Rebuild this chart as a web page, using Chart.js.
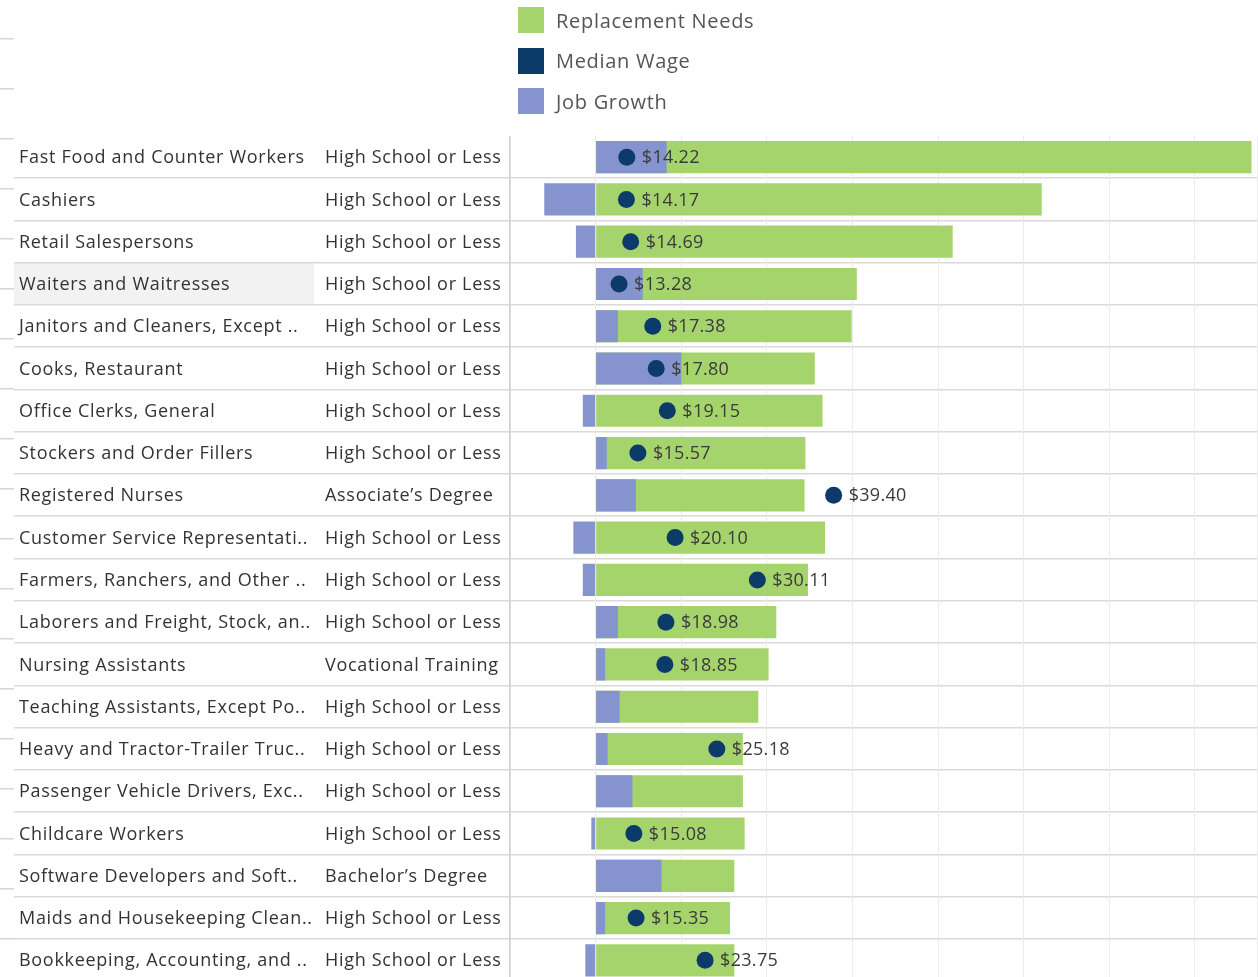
<!DOCTYPE html>
<html>
<head>
<meta charset="utf-8">
<script src="https://cdn.jsdelivr.net/npm/chart.js@4"></script>
<style>
  html, body { margin: 0; padding: 0; background: #fff; overflow: hidden; }
  body { width: 1258px; height: 977px; position: relative; font-family: 'Open Sans', sans-serif; }
  #chart { position: absolute; left: 0; top: 0; }
  .legend { position: absolute; left: 518px; top: 7px; }
  .legend-item { display: flex; align-items: center; height: 26px; margin-bottom: 14.5px; }
  .swatch { width: 26px; height: 26px; margin-right: 12px; }
  .legend-item span { font-size: 20px; color: #555; letter-spacing: 0.7px; }
</style>
</head>
<body>
<canvas id="chart" width="1266" height="990"></canvas>
<div class="legend">
  <div class="legend-item"><div class="swatch" style="background:#a6d46c"></div><span>Replacement Needs</span></div>
  <div class="legend-item"><div class="swatch" style="background:#0c3a69"></div><span>Median Wage</span></div>
  <div class="legend-item"><div class="swatch" style="background:#8593cf"></div><span>Job Growth</span></div>
</div>
<script>
const occupations = [
  'Fast Food and Counter Workers', 'Cashiers', 'Retail Salespersons', 'Waiters and Waitresses',
  'Janitors and Cleaners, Except ..', 'Cooks, Restaurant', 'Office Clerks, General',
  'Stockers and Order Fillers', 'Registered Nurses', 'Customer Service Representati..',
  'Farmers, Ranchers, and Other ..', 'Laborers and Freight, Stock, an..', 'Nursing Assistants',
  'Teaching Assistants, Except Po..', 'Heavy and Tractor-Trailer Truc..', 'Passenger Vehicle Drivers, Exc..',
  'Childcare Workers', 'Software Developers and Soft..', 'Maids and Housekeeping Clean..',
  'Bookkeeping, Accounting, and ..'
];
const education = [
  'High School or Less', 'High School or Less', 'High School or Less', 'High School or Less',
  'High School or Less', 'High School or Less', 'High School or Less', 'High School or Less',
  'Associate\u2019s Degree', 'High School or Less', 'High School or Less', 'High School or Less',
  'Vocational Training', 'High School or Less', 'High School or Less', 'High School or Less',
  'High School or Less', 'Bachelor\u2019s Degree', 'High School or Less', 'High School or Less'
];
// openings, in thousands
const replacementNeeds = [76.6, 52.1, 41.7, 30.5, 29.9, 25.6, 26.5, 24.5, 24.4, 26.8,
                          24.8, 21.1, 20.2, 19.0, 17.2, 17.2, 17.4, 16.2, 15.7, 16.2];
const jobGrowth = [8.3, -6.0, -2.3, 5.5, 2.6, 10.0, -1.5, 1.3, 4.7, -2.6,
                   -1.5, 2.6, 1.1, 2.8, 1.4, 4.3, -0.5, 7.7, 1.1, -1.2];
const medianWage = [14.22, 14.17, 14.69, 13.28, 17.38, 17.80, 19.15, 15.57, 39.40, 20.10,
                    30.11, 18.98, 18.85, null, 25.18, null, 15.08, null, 15.35, 23.75];

const GREEN = '#a6d46c';
const NAVY = '#0c3a69';
const BLUE = '#8593cf';
const FONT = "'Open Sans', sans-serif";
const highlightRow = 3;

const tablePlugin = {
  id: 'table',
  beforeDraw(chart) {
    const { ctx, chartArea, scales: { y } } = chart;
    const half = (y.getPixelForValue(1) - y.getPixelForValue(0)) / 2;
    ctx.save();
    // hovered-row shading behind the name cell
    const yc = y.getPixelForValue(highlightRow);
    ctx.fillStyle = '#f2f2f2';
    ctx.fillRect(14, yc - half, 300, half * 2);
    // stubs from a neighbouring panel at the far left
    ctx.fillStyle = '#d6d6d6';
    for (let sy = 38; sy < 977; sy += 50) ctx.fillRect(0, sy, 14, 1.5);
    // row separators
    ctx.fillStyle = '#d9d9d9';
    for (let i = 0; i < occupations.length - 1; i++) {
      const sy = Math.round(y.getPixelForValue(i) + half);
      ctx.fillRect(14, sy - 1, chartArea.right - 14, 1.5);
    }
    ctx.restore();
  },
  afterDraw(chart) {
    const { ctx, chartArea, scales: { y } } = chart;
    ctx.save();
    ctx.fillStyle = '#cfcfcf';
    ctx.fillRect(chartArea.left - 1, chartArea.top, 1.5, chartArea.bottom - chartArea.top);
    ctx.font = `18px ${FONT}`;
    ctx.letterSpacing = '0.7px';
    ctx.fillStyle = '#333';
    ctx.textBaseline = 'middle';
    occupations.forEach((name, i) => {
      const yc = y.getPixelForValue(i) + 1;
      ctx.fillText(name, 19, yc);
      ctx.fillText(education[i], 325, yc);
    });
    // wage labels beside the dots
    const meta = chart.getDatasetMeta(0);
    ctx.fillStyle = '#3a3a3a';
    ctx.letterSpacing = '0.3px';
    meta.data.forEach((pt, i) => {
      if (medianWage[i] == null) return;
      ctx.fillText('$' + medianWage[i].toFixed(2), pt.x + 15, pt.y + 1);
    });
    ctx.restore();
  }
};

new Chart(document.getElementById('chart'), {
  data: {
    labels: occupations,
    datasets: [
      {
        type: 'line',
        label: 'Median Wage',
        data: medianWage,
        xAxisID: 'x2',
        showLine: false,
        pointRadius: 8.5,
        pointBackgroundColor: NAVY,
        pointBorderWidth: 0,
        order: 0
      },
      {
        type: 'bar',
        label: 'Job Growth',
        data: jobGrowth,
        backgroundColor: BLUE,
        grouped: false,
        categoryPercentage: 0.76,
        barPercentage: 1,
        order: 1
      },
      {
        type: 'bar',
        label: 'Replacement Needs',
        data: replacementNeeds,
        backgroundColor: GREEN,
        grouped: false,
        categoryPercentage: 0.76,
        barPercentage: 1,
        order: 2
      }
    ]
  },
  options: {
    indexAxis: 'y',
    responsive: false,
    animation: false,
    layout: { padding: { left: 510, top: 136, right: 0, bottom: 0 } },
    scales: {
      x: {
        min: -10,
        max: 77.3,
        ticks: { display: false, stepSize: 10 },
        grid: { color: '#ececec', drawTicks: false },
        border: { display: false }
      },
      x2: {
        display: false,
        min: 0,
        max: 91
      },
      y: {
        display: false
      }
    },
    plugins: {
      legend: { display: false },
      tooltip: { enabled: false }
    }
  },
  plugins: [tablePlugin]
});
</script>
</body>
</html>
